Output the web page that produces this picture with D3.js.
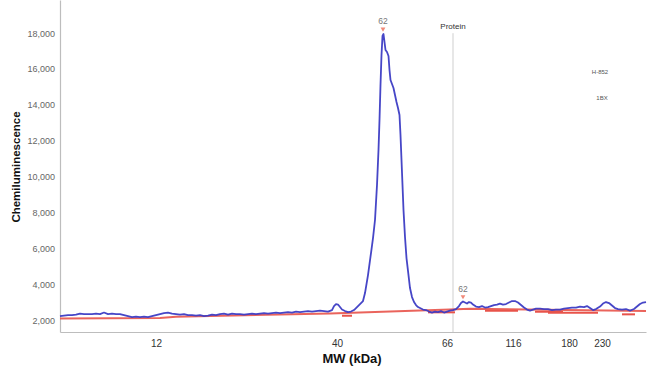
<!DOCTYPE html>
<html><head><meta charset="utf-8">
<script src="https://cdn.jsdelivr.net/npm/d3@7"></script>
<style>
html,body{margin:0;padding:0;background:#fff;}
svg{display:block;font-family:"Liberation Sans",Arial,sans-serif;}
</style></head>
<body><svg id="chart" width="650" height="390"></svg>
<script>
// Migration position (arbitrary units along the capillary) and signal
const tracePos = [0,2,4,6,8,10,12,14,16,18,20,22,24,26,28,30,32,34,36,38,40,42,44,46,48,50,52,54,56,58,60,62,64,66,68,70,72,74,76,78,80,82,84,86,88,90,92,94,96,98,100,102,104,106,108,110,112,114,116,118,120,122,124,126,128,130,132,134,136,137,138,139,140,141,142.5,144,145.5,147,148.5,150,151.5,152.5,154,155.5,156.5,157.5,158.5,159.25,159.75,160.25,160.75,161.25,161.75,162.25,162.75,163.5,164.25,164.75,165.25,166,166.75,167.5,168.25,169,169.75,170.25,170.75,171.25,171.75,172.5,173.25,174.25,175,176,177,178,179,180,181.5,183,184.5,186,187.5,189,190.5,192,193.5,195,196.5,198,199.5,200.5,201.5,202.5,203.5,204.5,205.5,206.5,208,209.5,211,212.5,214,215.5,217,218.5,220,221.5,223,224.5,226,227.5,229,230.5,232,233.5,235,236.5,238,240,242,244,246,248,250,252,254,256,258,260,262,263.5,265,266.5,268,270,271.5,273,274.5,276,277.5,279,281,283,285,287,288.5,290,291.5,293];
const traceSignal = [2240,2267,2295,2295,2323,2379,2351,2351,2351,2379,2351,2435,2351,2379,2351,2351,2295,2240,2184,2212,2184,2212,2184,2240,2295,2351,2407,2435,2379,2351,2323,2351,2295,2295,2267,2295,2240,2267,2323,2295,2351,2379,2323,2379,2351,2351,2323,2351,2379,2351,2379,2407,2379,2407,2435,2407,2435,2463,2435,2490,2463,2490,2518,2490,2518,2546,2518,2490,2574,2797,2908,2881,2741,2602,2518,2463,2490,2574,2741,2908,3076,3521,4524,5751,6587,7590,9540,11491,13163,15113,16785,17844,17956,17510,17064,16953,16730,15949,15392,15169,14946,14556,14166,13832,13442,12327,10933,9540,8147,6642,5472,4524,3800,3298,3020,2853,2741,2686,2602,2574,2490,2435,2490,2463,2518,2435,2490,2546,2574,2630,2797,2964,3048,2992,2936,3020,2992,2881,2769,2741,2797,2713,2741,2797,2853,2881,2936,2881,2908,2992,3076,3076,2992,2853,2713,2602,2546,2602,2658,2658,2630,2630,2574,2602,2602,2658,2686,2713,2713,2769,2741,2797,2686,2574,2630,2769,2936,3020,2964,2825,2686,2630,2602,2630,2546,2630,2769,2908,2992,3020];

// Baseline (red)
const baselinePos = [0,50,58,135,195,205,293];
const baselineSignal = [2100,2130,2200,2380,2600,2640,2520];

// Short baseline segments under minor peaks: [start, end, signal]
const baseSegStart = [141,184,212.5,237.5,244,281];
const baseSegEnd   = [146,197.5,229,251.5,269,287.5];
const baseSegSignal= [2256,2446,2535,2479,2424,2334];

// X axis: MW tick labels and their migration positions
const mwTickLabels = ["12","40","66","116","180","230"];
const mwTickPos = [48,138.5,193.5,226.5,254.5,271];

// Y ticks
const yTicks = [2000,4000,6000,8000,10000,12000,14000,16000,18000];

// Peak annotations
const peakLabels = ["62","62"];
const peakPos = [161.5,201.5];
const peakSignal = [17956,3048];

// Reference marker
const markerLabel = "Protein";
const markerPos = 196.5;
const markerTop = 18000;

const svg = d3.select("#chart");
const W = 650, H = 390;
const m = {left:60, right:4, top:0, bottom:58};

const x = d3.scaleLinear().domain([0,293]).range([m.left, W - m.right]);
const y = d3.scaleLinear().domain([1350,19850]).range([H - m.bottom, m.top]);

// Axis lines
const xAxis = d3.axisBottom(x).tickValues(mwTickPos)
  .tickFormat((d,i)=>mwTickLabels[i]).tickSize(0).tickPadding(8);
const gx = svg.append("g").attr("transform",`translate(0,${H-m.bottom})`).call(xAxis);
gx.select(".domain").attr("stroke","#bdbdbd").attr("stroke-width",1.2);
gx.selectAll("text").attr("font-size",10).attr("fill","#333");

const yAxis = d3.axisLeft(y).tickValues(yTicks).tickFormat(d3.format(",")).tickSize(0).tickPadding(5);
const gy = svg.append("g").attr("transform",`translate(${m.left},0)`).call(yAxis);
gy.select(".domain").attr("stroke","#bdbdbd").attr("stroke-width",1.2);
gy.selectAll("text").attr("font-size",9).attr("fill","#666");

// Reference vertical line
svg.append("line")
  .attr("x1",x(markerPos)).attr("x2",x(markerPos))
  .attr("y1",y(markerTop)).attr("y2",H-m.bottom)
  .attr("stroke","#cfcfcf").attr("stroke-width",1);
svg.append("text").attr("x",x(markerPos)).attr("y",y(markerTop)-4)
  .attr("text-anchor","middle").attr("font-size",8).attr("fill","#333").text(markerLabel);

// Baseline
const lineB = d3.line().x((d,i)=>x(baselinePos[i])).y(d=>y(d));
svg.append("path").attr("d",lineB(baselineSignal))
  .attr("fill","none").attr("stroke","#e8534a").attr("stroke-width",2).attr("opacity",0.9);

// Baseline segments
svg.selectAll("line.seg").data(baseSegSignal).enter().append("line")
  .attr("class","seg")
  .attr("x1",(d,i)=>x(baseSegStart[i])).attr("x2",(d,i)=>x(baseSegEnd[i]))
  .attr("y1",d=>y(d)).attr("y2",d=>y(d))
  .attr("stroke","#e8534a").attr("stroke-width",2);

// Trace
const lineT = d3.line().x((d,i)=>x(tracePos[i])).y(d=>y(d));
svg.append("path").attr("d",lineT(traceSignal))
  .attr("fill","none").attr("stroke","#3c3cc4").attr("stroke-width",1.8)
  .attr("stroke-linejoin","round").attr("opacity",0.95);

// Peak annotations
peakLabels.forEach((lab,i)=>{
  const px = x(peakPos[i]), py = y(peakSignal[i]);
  svg.append("path")
    .attr("d",d3.symbol().type(d3.symbolTriangle).size(10)())
    .attr("transform",`translate(${px},${py-5}) rotate(180)`)
    .attr("fill","#f08a7a");
  svg.append("text").attr("x",px).attr("y",py-10)
    .attr("text-anchor","middle").attr("font-size",8.5).attr("fill","#777").text(lab);
});

// Top-right notes
svg.append("text").attr("x",600).attr("y",74).attr("text-anchor","middle")
  .attr("font-size",6).attr("fill","#555").text("H-852");
svg.append("text").attr("x",602).attr("y",100).attr("text-anchor","middle")
  .attr("font-size",6).attr("fill","#555").text("1BX");

// Axis titles
svg.append("text").attr("transform","translate(20,167) rotate(-90)")
  .attr("text-anchor","middle").attr("font-size",11.5).attr("font-weight","bold")
  .attr("fill","#111").text("Chemiluminescence");
svg.append("text").attr("x",352).attr("y",363).attr("text-anchor","middle")
  .attr("font-size",13).attr("font-weight","bold").attr("fill","#111").text("MW (kDa)");
</script></body></html>
